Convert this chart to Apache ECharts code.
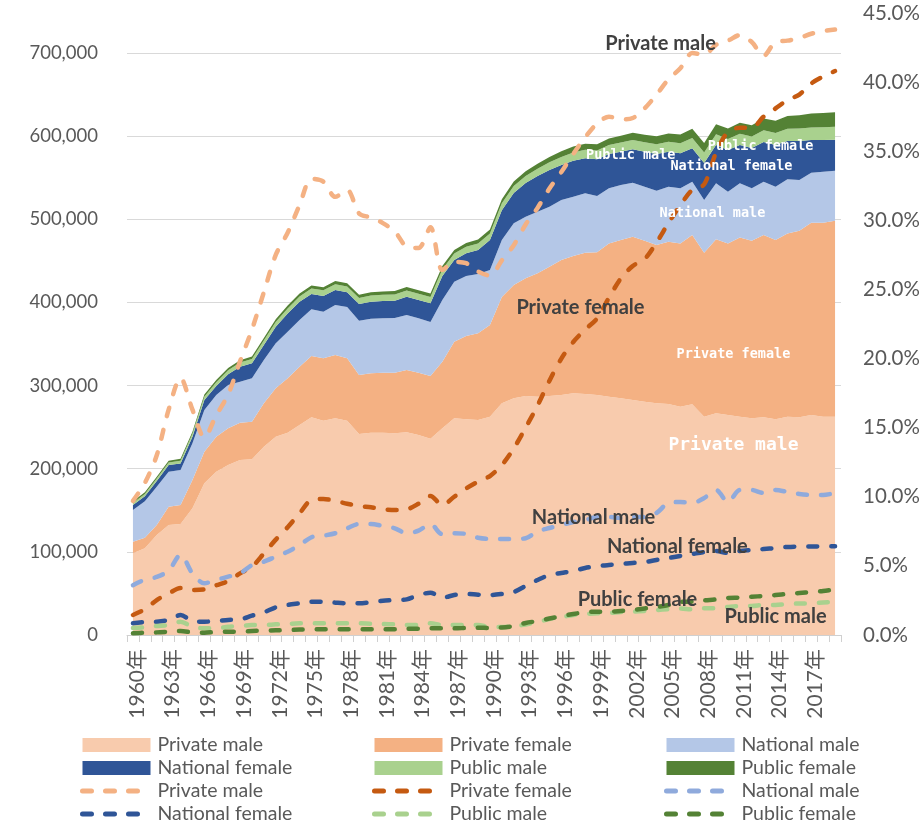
<!DOCTYPE html>
<html><head><meta charset="utf-8">
<script src="https://cdn.jsdelivr.net/npm/echarts@6/dist/echarts.min.js"></script>
<style>html,body{margin:0;padding:0;background:#fff}#c{width:924px;height:823px}</style>
</head><body><div id="c"></div>
<script>
const categories = ['1960年','1961年','1962年','1963年','1964年','1965年','1966年','1967年','1968年','1969年',
 '1970年','1971年','1972年','1973年','1974年','1975年','1976年','1977年','1978年','1979年',
 '1980年','1981年','1982年','1983年','1984年','1985年','1986年','1987年','1988年','1989年',
 '1990年','1991年','1992年','1993年','1994年','1995年','1996年','1997年','1998年','1999年',
 '2000年','2001年','2002年','2003年','2004年','2005年','2006年','2007年','2008年','2009年',
 '2010年','2011年','2012年','2013年','2014年','2015年','2016年','2017年','2018年','2019年'];

// Stacked areas (left axis, persons)
const privateMale = [98300,104300,120300,132300,133500,152400,182400,196400,204500,210500,211300,226500,238500,243300,252600,261800,257800,260600,257800,241700,243300,243300,242600,243800,240500,236100,248600,260600,259400,258600,262600,278700,284700,287400,286600,287400,288600,290700,289800,288600,286600,284700,282600,280600,278700,277800,274600,277500,262600,266600,264600,262600,260600,261800,259400,262600,261800,264600,262600,262600];
const privateFemale = [13900,12700,12000,22000,22900,34000,38100,42100,44100,44900,45300,52200,58200,65400,70100,73700,75000,76200,75000,71000,71400,72200,72900,74900,75000,75400,80100,92200,100200,104400,110200,127800,136300,141600,148400,155600,162400,165100,170000,171700,184400,190300,196400,193600,190300,195200,196400,203500,197200,209300,206400,215600,213600,219200,215600,220400,224500,231300,233300,235700];
const nationalMale = [38100,44000,46000,42100,42000,44100,50100,50100,52100,49200,52100,52000,54100,56100,56100,56200,56000,60100,61700,65300,65700,65400,65800,66200,65400,64900,74200,72100,72200,71200,66200,68500,74100,74100,74100,72100,72200,71300,71400,67700,66200,66200,65000,65000,65400,66200,66200,64200,63400,67300,62200,65000,63000,64200,64200,65100,60900,60100,61300,60100];
const nationalFemale = [6000,6000,7000,8000,8000,8000,12000,11000,13000,18000,18000,18000,20000,22000,22000,18400,18900,18000,17700,20100,20500,20800,20800,22000,22000,22500,28900,26100,27300,28800,36000,36000,36500,40500,42900,44200,42100,43300,42100,44100,41300,40100,40100,42100,44100,42100,42100,40100,44500,46200,50100,46200,48500,47700,50200,46000,46900,39300,38100,37300];
const publicMale = [2500,2600,2800,3000,3200,3600,4000,4300,4600,5000,5200,5500,5800,6000,6300,6600,6800,7000,7000,7200,7300,7400,7400,7500,7500,7600,7700,7800,7900,8000,8000,8200,8400,8600,8800,9200,9600,10000,10300,10500,10800,11000,11300,11500,11800,12000,12300,12500,12700,13000,13300,13600,13900,14200,14400,14700,15000,15200,15400,15600];
const publicFemale = [2000,2100,2200,2300,2400,2500,2600,2700,2800,2900,3000,3100,3300,3400,3600,3800,3800,3900,3900,4000,4000,4000,4100,4100,4100,4200,4300,4400,4500,4600,4800,5000,5300,5600,6000,6500,6800,7100,7400,7700,8000,8300,8600,9000,9500,10000,10500,11000,11500,12000,12500,13000,13500,14000,14800,15500,16000,16600,17000,17500];

// Percentage lines (right axis, %)
const privateMalePct = [9.7,11.0,13.0,16.3,18.6,16.3,14.3,15.9,17.4,19.8,22.1,24.8,27.5,29.1,31.1,33.0,32.8,31.7,32.2,30.5,30.2,29.8,29.2,28.1,28.0,29.5,26.4,27.0,26.9,26.3,26.0,27.1,28.2,29.7,30.9,32.3,33.5,34.8,36.0,37.0,37.5,37.3,37.4,38.1,39.1,40.2,41.0,42.1,42.0,42.7,43.0,43.4,42.9,41.9,42.9,43.0,43.2,43.5,43.7,43.8];
const privateFemalePct = [1.45,1.86,2.53,3.0,3.4,3.26,3.3,3.6,3.9,4.46,4.94,5.9,6.9,7.8,8.8,9.77,9.84,9.7,9.5,9.33,9.24,9.1,9.04,9.09,9.5,10.06,9.4,10.0,10.6,11.1,11.5,12.3,13.5,15.0,16.6,18.4,20.0,21.2,22.1,22.9,24.4,25.8,26.7,27.2,28.4,29.8,31.1,32.2,32.6,34.9,36.4,36.7,36.7,37.5,38.1,38.7,39.1,39.9,40.4,40.8];
const nationalMalePct = [3.6,4.0,4.2,4.65,5.8,4.46,3.74,3.98,4.22,4.46,5.06,5.3,5.67,6.03,6.5,7.07,7.19,7.36,7.72,8.03,8.03,7.89,7.72,7.36,7.55,8.03,7.29,7.36,7.31,7.04,6.95,6.95,6.95,7.0,7.5,7.74,7.96,8.18,8.32,8.54,8.54,8.47,8.54,8.54,8.83,9.55,9.62,9.55,9.91,10.49,9.62,10.49,10.49,10.27,10.49,10.35,10.2,10.13,10.13,10.27];
const nationalFemalePct = [0.85,0.94,0.96,1.09,1.45,1.01,0.96,1.01,1.09,1.13,1.4,1.64,2.0,2.17,2.29,2.41,2.41,2.34,2.29,2.29,2.37,2.48,2.53,2.58,2.89,3.06,2.7,2.89,2.97,2.92,2.89,2.97,3.11,3.55,3.98,4.34,4.49,4.63,4.85,4.99,5.06,5.14,5.21,5.28,5.43,5.57,5.72,5.86,6.0,6.08,5.93,6.08,6.15,6.22,6.29,6.37,6.4,6.4,6.42,6.42];
const publicMalePct = [0.51,0.55,0.65,0.72,0.96,0.6,0.48,0.48,0.6,0.65,0.72,0.72,0.77,0.8,0.85,0.85,0.85,0.85,0.85,0.85,0.82,0.8,0.77,0.72,0.72,0.85,0.72,0.72,0.72,0.72,0.58,0.58,0.65,0.76,0.94,1.16,1.3,1.45,1.52,1.57,1.59,1.66,1.69,1.74,1.81,1.86,1.92,1.85,1.93,1.93,2.03,2.1,2.1,2.17,2.17,2.24,2.28,2.29,2.35,2.41];
const publicFemalePct = [0.12,0.17,0.19,0.24,0.29,0.19,0.17,0.22,0.24,0.24,0.29,0.31,0.34,0.36,0.39,0.41,0.41,0.41,0.41,0.41,0.41,0.41,0.41,0.46,0.46,0.48,0.48,0.48,0.51,0.53,0.51,0.54,0.65,0.87,1.01,1.19,1.37,1.52,1.64,1.69,1.69,1.74,1.81,1.92,2.03,2.17,2.39,2.41,2.51,2.57,2.68,2.71,2.77,2.82,2.89,2.97,3.04,3.11,3.18,3.29];

const leftTicks = [0,100000,200000,300000,400000,500000,600000,700000];
const rightTicks = [0,5,10,15,20,25,30,35,40,45];

// in-chart annotations
const areaLabels = [
  {text:'Public male', cat:'2002年', value:577300, dx:-2, big:false},
  {text:'Public female', cat:'2013年', value:588100, dx:-3, big:false},
  {text:'National female', cat:'2010年', value:562900, dx:3.5, big:false},
  {text:'National male', cat:'2009年', value:507500, dx:-3.6, big:false},
  {text:'Private female', cat:'2010年', value:336800, dx:5.5, big:false},
  {text:'Private male', cat:'2010年', value:228500, dx:5.5, big:true}
];
const lineLabels = [
  {text:'Private male', cat:'2004年', value:42.76, dx:4},
  {text:'Private female', cat:'1998年', value:23.66, dx:-4.7},
  {text:'National male', cat:'1999年', value:8.47, dx:-3.6},
  {text:'National female', cat:'2006年', value:6.37, dx:-3},
  {text:'Public female', cat:'2002年', value:2.53, dx:4.7},
  {text:'Public male', cat:'2014年', value:1.30, dx:0}
];

const FONT = 'Lato, "Noto Sans CJK JP", sans-serif';
const areaDefs = [
  ['Private male', privateMale, '#F8CBAD'],
  ['Private female', privateFemale, '#F4B183'],
  ['National male', nationalMale, '#B4C7E7'],
  ['National female', nationalFemale, '#2F5597'],
  ['Public male', publicMale, '#A9D18E'],
  ['Public female', publicFemale, '#548235']
];
const lineDefs = [
  ['Private male ', privateMalePct, '#F4B183'],
  ['Private female ', privateFemalePct, '#C55A11'],
  ['National male ', nationalMalePct, '#8FAADC'],
  ['National female ', nationalFemalePct, '#2F5597'],
  ['Public male ', publicMalePct, '#A9D18E'],
  ['Public female ', publicFemalePct, '#548235']
];

const series = [];
areaDefs.forEach((d, i) => {
  const s = {
    name: d[0], type: 'line', stack: 'total', xAxisIndex: 0, yAxisIndex: 0,
    data: d[1], symbol: 'none', showSymbol: false, smooth: false,
    lineStyle: {width: 0, color: d[2]}, itemStyle: {color: d[2], borderWidth: 0},
    areaStyle: {color: d[2], opacity: 1}, emphasis: {disabled: true}, silent: true
  };
  if (i === 0) {
    s.markPoint = {
      symbol: 'rect', symbolSize: 1, silent: true, itemStyle: {color: 'rgba(0,0,0,0)'},
      data: areaLabels.map(l => ({
        coord: [l.cat, l.value],
        label: {show: true, position: 'inside', formatter: l.text, offset: [l.dx, 0],
          color: '#ffffff', fontFamily: '"DejaVu Sans Mono", monospace', fontWeight: 'bold',
          fontSize: l.big ? 18 : 13.5}
      }))
    };
  }
  series.push(s);
});
lineDefs.forEach((d, i) => {
  const s = {
    name: d[0], type: 'line', xAxisIndex: 1, yAxisIndex: 1, data: d[1],
    symbol: 'none', showSymbol: false, smooth: 0.3,
    lineStyle: {width: 4.5, color: d[2], type: [9, 14], cap: 'round', join: 'round'},
    itemStyle: {color: d[2]}, emphasis: {disabled: true}, silent: true
  };
  if (i === lineDefs.length - 1) {
    s.markPoint = {
      symbol: 'rect', symbolSize: 1, silent: true, itemStyle: {color: 'rgba(0,0,0,0)'},
      data: lineLabels.map(l => ({
        coord: [l.cat, l.value],
        label: {show: true, position: 'inside', formatter: l.text, offset: [l.dx, 0],
          color: '#404040', fontFamily: FONT, fontWeight: 'bold', fontSize: 20}
      }))
    };
  }
  series.push(s);
});

function legendCol(left, names) {
  return {
    left: left, top: 735, height: 110, orient: 'vertical', itemWidth: 68, itemHeight: 14, itemGap: 3,
    selectedMode: false, padding: 0,
    textStyle: {fontSize: 19.5, color: '#595959', fontFamily: FONT, lineHeight: 20, padding: [0, 0, 0, 2]},
    lineStyle: {width: 5},
    formatter: n => n.trim(),
    data: names.map(n => n.endsWith(' ')
      ? {name: n, itemStyle: {opacity: 0, color: 'rgba(0,0,0,0)', borderWidth: 0}}
      : {name: n, icon: 'rect'})
  };
}

const chart = echarts.init(document.getElementById('c'), null, {renderer: 'canvas'});
chart.setOption({
  animation: false,
  backgroundColor: '#ffffff',
  grid: [
    {left: 127, right: 83, top: 53, bottom: 188, containLabel: false, outerBoundsMode: 'none'},
    {left: 127, right: 83, top: 13, bottom: 188, containLabel: false, outerBoundsMode: 'none'}
  ],
  xAxis: [
    {type: 'category', gridIndex: 0, data: categories, boundaryGap: true,
     axisLine: {show: true, lineStyle: {color: '#d0d0d0', width: 1}},
     axisTick: {show: true, interval: 0, length: 7, lineStyle: {color: '#d0d0d0'}},
     axisLabel: {interval: 2, rotate: 90, margin: 14, fontSize: 21, color: '#595959', fontFamily: FONT,
       verticalAlign: 'top', lineHeight: 8},
     splitLine: {show: false}},
    {type: 'category', gridIndex: 1, data: categories, boundaryGap: true, show: false}
  ],
  yAxis: [
    {type: 'value', gridIndex: 0, min: leftTicks[0], max: leftTicks[leftTicks.length - 1], interval: 100000,
     position: 'left', axisLine: {show: false}, axisTick: {show: false},
     axisLabel: {margin: 29, fontSize: 18.5, color: '#595959', fontFamily: FONT,
       formatter: v => v.toLocaleString('en-US')},
     splitLine: {show: true, lineStyle: {color: '#d9d9d9', width: 1}}},
    {type: 'value', gridIndex: 1, min: rightTicks[0], max: rightTicks[rightTicks.length - 1], interval: 5,
     position: 'right', axisLine: {show: false}, axisTick: {show: false},
     axisLabel: {margin: 22, fontSize: 20.5, color: '#595959', fontFamily: FONT,
       formatter: v => v.toFixed(1) + '%'},
     splitLine: {show: false}}
  ],
  legend: [
    legendCol(80, ['Private male', 'National female', 'Private male ', 'National female ']),
    legendCol(372, ['Private female', 'Public male', 'Private female ', 'Public male ']),
    legendCol(664, ['National male', 'Public female', 'National male ', 'Public female '])
  ],
  tooltip: {show: false},
  series: series
});
</script>
</body></html>
